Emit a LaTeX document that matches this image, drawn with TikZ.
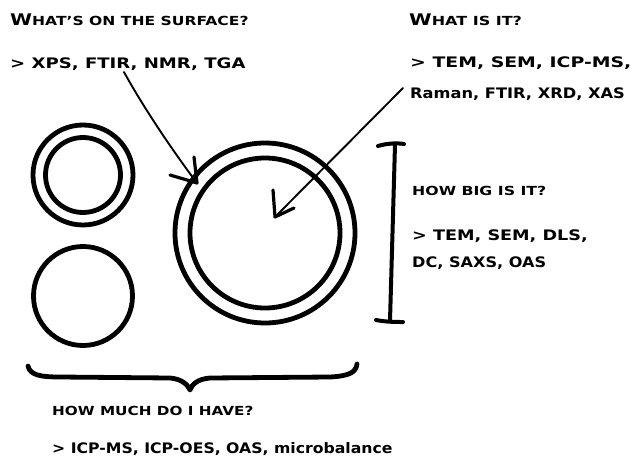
\documentclass[tikz,border=0pt]{standalone}
\usepackage{graphicx}
\usepackage{fontspec}
\setmainfont{DejaVu Sans}
\newcommand\hs[2]{\scalebox{#1}[1]{#2}}
\begin{document}
\begin{tikzpicture}[x=1pt,y=-1pt, line cap=round, line join=round,
  ring/.style={draw, circle, line width=4.8pt, inner sep=0pt},
  lbl/.style={anchor=base west, inner sep=0pt, font=\bfseries\fontsize{14.5}{16}\selectfont},
  head/.style={anchor=base west, inner sep=0pt, font=\bfseries\fontsize{12.5}{14}\selectfont},
  pointer/.style={line width=1.9pt},
  tipstroke/.style={line width=3.2pt},
  heavy/.style={line width=4.8pt}]
\useasboundingbox (0,0) rectangle (632,463);

% circles
\node[ring, minimum size=100pt] (smallout) at (83,175) {};
\node[ring, minimum size=75pt] (smallin) at (83,175) {};
\node[ring, minimum size=99pt] (plain) at (83,296) {};
\node[ring, minimum size=180pt] (bigout) at (265,233) {};
\node[ring, minimum size=150pt] (bigin) at (265,233) {};

% texts
\node[head] (q1) at (10,25) {\hs{1.246}{{\fontsize{16}{16}\selectfont W}HAT'S ON THE SURFACE?}};
\node[lbl] (a1) at (10,68) {\hs{1.247}{> XPS, FTIR, NMR, TGA}};
\node[head] (q2) at (409,25) {\hs{1.28}{{\fontsize{16}{16}\selectfont W}HAT IS IT?}};
\node[lbl] (a2) at (410,67) {\hs{1.3}{> TEM, SEM, ICP-MS,}};
\node[lbl] (a2b) at (410,98) {\hs{1.12}{Raman, FTIR, XRD, XAS}};
\node[head] (q3) at (412,195) {\hs{1.26}{HOW BIG IS IT?}};
\node[lbl] (a3) at (412,240) {\hs{1.215}{> TEM, SEM, DLS,}};
\node[lbl] (a3b) at (412,267) {\hs{1.11}{DC, SAXS, OAS}};
\node[head] (q4) at (52,415) {\hs{1.22}{HOW MUCH DO I HAVE?}};
\node[lbl] (a4) at (52,453) {\hs{1.083}{> ICP-MS, ICP-OES, OAS, microbalance}};

% arrow 1 (surface)
\coordinate (s1) at (124,72);
\coordinate (t1) at (197,183);
\draw[pointer] (s1) .. controls (142,105) and (172,150) .. (t1);
\draw[tipstroke] (t1) -- (194,157);
\draw[tipstroke] (t1) -- (170,175);

% arrow 2 (what is it)
\coordinate (s2) at (403,88);
\coordinate (t2) at (275,217);
\draw[pointer] (s2) -- (t2);
\draw[tipstroke] (t2) -- (273,190);
\draw[tipstroke] (t2) -- (294,208);

% size bar
\coordinate (bt) at (395,145);
\coordinate (bb) at (390,321);
\draw[line width=4pt] (bt) -- (bb);
\draw[line width=4pt] (378,146) .. controls (388,143) and (398,143) .. (404,144);
\draw[line width=4pt] (376,320) .. controls (386,322) and (396,322) .. (403,322);

% brace
\draw[heavy] (28,366) .. controls (30,375) and (40,377) .. (60,377) -- (170,378)
  .. controls (182,379) and (188,385) .. (190,390)
  .. controls (192,384) and (198,379) .. (210,378) -- (330,377)
  .. controls (350,376) and (356,372) .. (357,364);
\end{tikzpicture}
\end{document}
